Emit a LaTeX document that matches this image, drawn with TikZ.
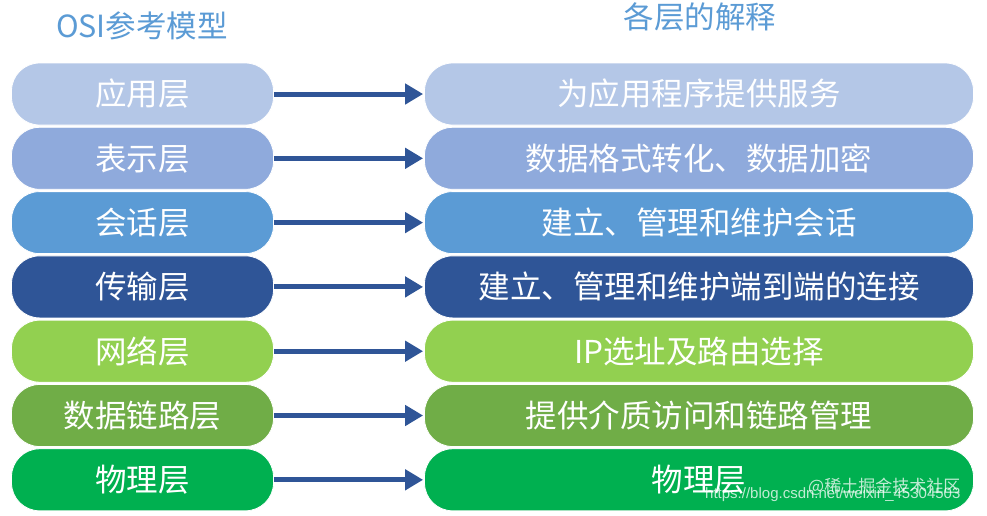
\documentclass[tikz,border=0pt]{standalone}
\usepackage{fontspec}
\setmainfont{Noto Sans CJK SC}
\newfontfamily\urlfont{Liberation Sans}
\usetikzlibrary{arrows.meta}
\definecolor{c1}{HTML}{B4C7E7}
\definecolor{c2}{HTML}{8FAADC}
\definecolor{c3}{HTML}{5B9BD5}
\definecolor{c4}{HTML}{2F5597}
\definecolor{c5}{HTML}{92D050}
\definecolor{c6}{HTML}{70AD47}
\definecolor{c7}{HTML}{00B050}
\definecolor{arrowc}{HTML}{2F5597}
\definecolor{headc}{HTML}{5B9BD5}
\tikzset{
  x=1pt, y=-1pt,
  layer/.style={rounded corners=28pt, minimum height=62pt, inner sep=0pt,
    text=white, draw=white, line width=0.8pt},
  leftbox/.style={layer, minimum width=262pt, font=\fontsize{31.5}{34}\selectfont},
  rightbox/.style={layer, minimum width=549pt, font=\fontsize{31.5}{34}\selectfont},
  head/.style={text=headc, font=\fontsize{30.5}{34}\selectfont, inner sep=0pt},
  conn/.style={draw=arrowc, line width=5pt, -{Triangle[length=18pt,width=20pt]}, shorten >=1pt},
  wm/.style={inner sep=0pt, text=white, opacity=0.75}
}
\begin{document}
\begin{tikzpicture}
\path[use as bounding box, fill=white] (0,0) rectangle (987,515);
\node[head] (hl) at (142,26) {OSI参考模型};
\node[head] (hr) at (700,17) {各层的解释};
\foreach \i/\l/\r/\c in {
  1/应用层/为应用程序提供服务/c1,
  2/表示层/数据格式转化、数据加密/c2,
  3/会话层/建立、管理和维护会话/c3,
  4/传输层/建立、管理和维护端到端的连接/c4,
  5/网络层/IP选址及路由选择/c5,
  6/数据链路层/提供介质访问和链路管理/c6,
  7/物理层/物理层/c7}{
  \pgfmathsetmacro{\yy}{94+64.3*(\i-1)}
  \node[leftbox, fill=\c] (L\i) at (142.5,\yy) {\l};
  \node[rightbox, fill=\c] (R\i) at (699,\yy) {\r};
  \draw[conn] (L\i.east) -- (R\i.west);
}
\node[wm, font=\fontsize{17}{20}\selectfont, anchor=west] (wm1) at (808,487) {@稀土掘金技术社区};
\node[wm, font=\urlfont\fontsize{15}{18}\selectfont, anchor=west] (wm2) at (705,495) {https://blog.csdn.net/weixin\_45304503};
\end{tikzpicture}
\end{document}
